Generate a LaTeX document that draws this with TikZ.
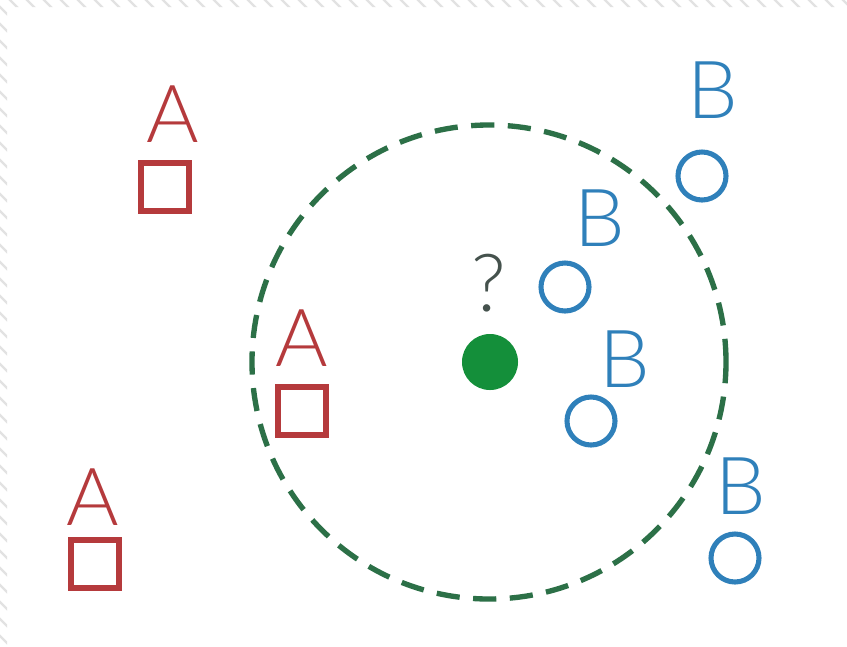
\documentclass[tikz,border=0pt]{standalone}
\usepackage{fontspec}
\setmainfont{Lato Light}
\definecolor{knnred}{HTML}{B53A3C}
\definecolor{knnblue}{HTML}{2F80BA}
\definecolor{ringgreen}{HTML}{2C7047}
\definecolor{dotgreen}{HTML}{148F3A}
\definecolor{qgray}{HTML}{45524D}
\definecolor{hatch}{HTML}{E2E2E2}

\begin{document}
\begin{tikzpicture}[x=0.025cm, y=0.025cm,
  lbl/.style={inner sep=0pt, font=\fontsize{57}{57}\selectfont},
  sqbox/.style={draw=knnred, line width=3.6pt, minimum size=1.2cm, inner sep=0pt},
  ringB/.style={circle, draw=knnblue, line width=3.6pt, minimum size=1.2cm, inner sep=0pt}]

% Background
\fill[white] (0,0) rectangle (847,-646);
\useasboundingbox (0,0) rectangle (847,-646);

% Hatched frame along top and left edges
\begin{scope}
  \clip (0,0) -- (847,0) -- (847,-7) -- (7,-7) -- (7,-646) -- (0,-646) -- cycle;
  \foreach \s in {-680,-663,...,860}
    \draw[hatch, line width=1.6pt] (\s,10) -- (\s+700,-690);
\end{scope}

% Neighbourhood of the query point
\coordinate (q) at (489,-362);
\draw[ringgreen, line width=3.8pt, dash pattern=on 16.5pt off 9.6pt]
  (q) circle [radius=237];

% Class A (squares)
\node[sqbox] (sqA1) at (165,-187) {};
\node[lbl, text=knnred] (labA1) at (173,-114) {A};
\node[sqbox] (sqA2) at (302,-411) {};
\node[lbl, text=knnred] (labA2) at (302,-338) {A};
\node[sqbox] (sqA3) at (95,-564) {};
\node[lbl, text=knnred] (labA3) at (93,-497) {A};

% Class B (circles)
\node[ringB] (ciB1) at (702,-176) {};
\node[lbl, text=knnblue] (labB1) at (713,-90) {B};
\node[ringB] (ciB2) at (565,-287) {};
\node[lbl, text=knnblue] (labB2) at (600,-218) {B};
\node[ringB] (ciB3) at (591,-421) {};
\node[lbl, text=knnblue] (labB3) at (625,-359) {B};
\node[ringB] (ciB4) at (735,-558) {};
\node[lbl, text=knnblue] (labB4) at (741,-486) {B};

% Query point
\node[circle, fill=dotgreen, minimum size=1.4cm, inner sep=0pt] (dot) at (490,-362) {};
\node[lbl, text=qgray] (ask) at (489,-283) {?};

\end{tikzpicture}
\end{document}
